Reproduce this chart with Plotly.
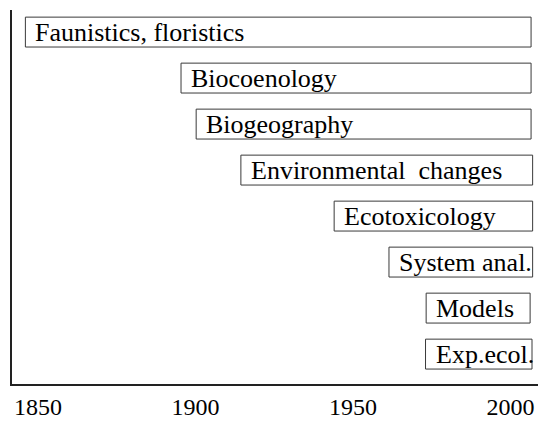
import plotly.graph_objects as go

fields = ["Faunistics, floristics", "Biocoenology", "Biogeography", "Environmental  changes",
          "Ecotoxicology", "System anal.", "Models", "Exp.ecol."]
start_year = [1846, 1895.4, 1900.2, 1914.4, 1944, 1961.4, 1973.2, 1973]
end_year = [2006.5, 2006.5, 2006.5, 2007, 2007, 2007, 2006.2, 2006.8]
tick_years = [1850, 1900, 1950, 2000]

durations = [e - s for s, e in zip(start_year, end_year)]
FONT = '"Liberation Serif", "Times New Roman", serif'

fig = go.Figure()
fig.add_trace(go.Bar(
    y=fields, x=durations, base=start_year, orientation="h",
    width=0.65,
    marker=dict(color="white", line=dict(color="#3a3a3a", width=1)),
    hoverinfo="skip", showlegend=False,
))

for name, s in zip(fields, start_year):
    fig.add_annotation(x=s, y=name, text=name.replace("  ", "&nbsp; "), xanchor="left", yanchor="middle",
                       xshift=8, yshift=0, showarrow=False,
                       font=dict(family=FONT, size=26, color="black"))

fig.update_layout(
    width=538, height=421,
    margin=dict(l=12, r=0, t=10, b=37),
    paper_bgcolor="white", plot_bgcolor="white",
    font=dict(family=FONT, size=24, color="black"),
    xaxis=dict(range=[1841.75, 2008.7], tickvals=tick_years, ticktext=[str(t) for t in tick_years],
               tickfont=dict(family=FONT, size=24, color="black"),
               showgrid=False, zeroline=False, showline=True, linecolor="#222", linewidth=1.5,
               ticks="", ticklabelstandoff=0, automargin=False),
    yaxis=dict(type="category", categoryorder="array", categoryarray=fields,
               range=[7.65, -0.48], showticklabels=False, showgrid=False, zeroline=False,
               showline=True, linecolor="#222", linewidth=1.5, ticks="", automargin=False),
)

fig.write_html("out.html", config={"displayModeBar": False},
               post_script="document.body.style.margin='0';document.body.style.overflow='hidden';")
